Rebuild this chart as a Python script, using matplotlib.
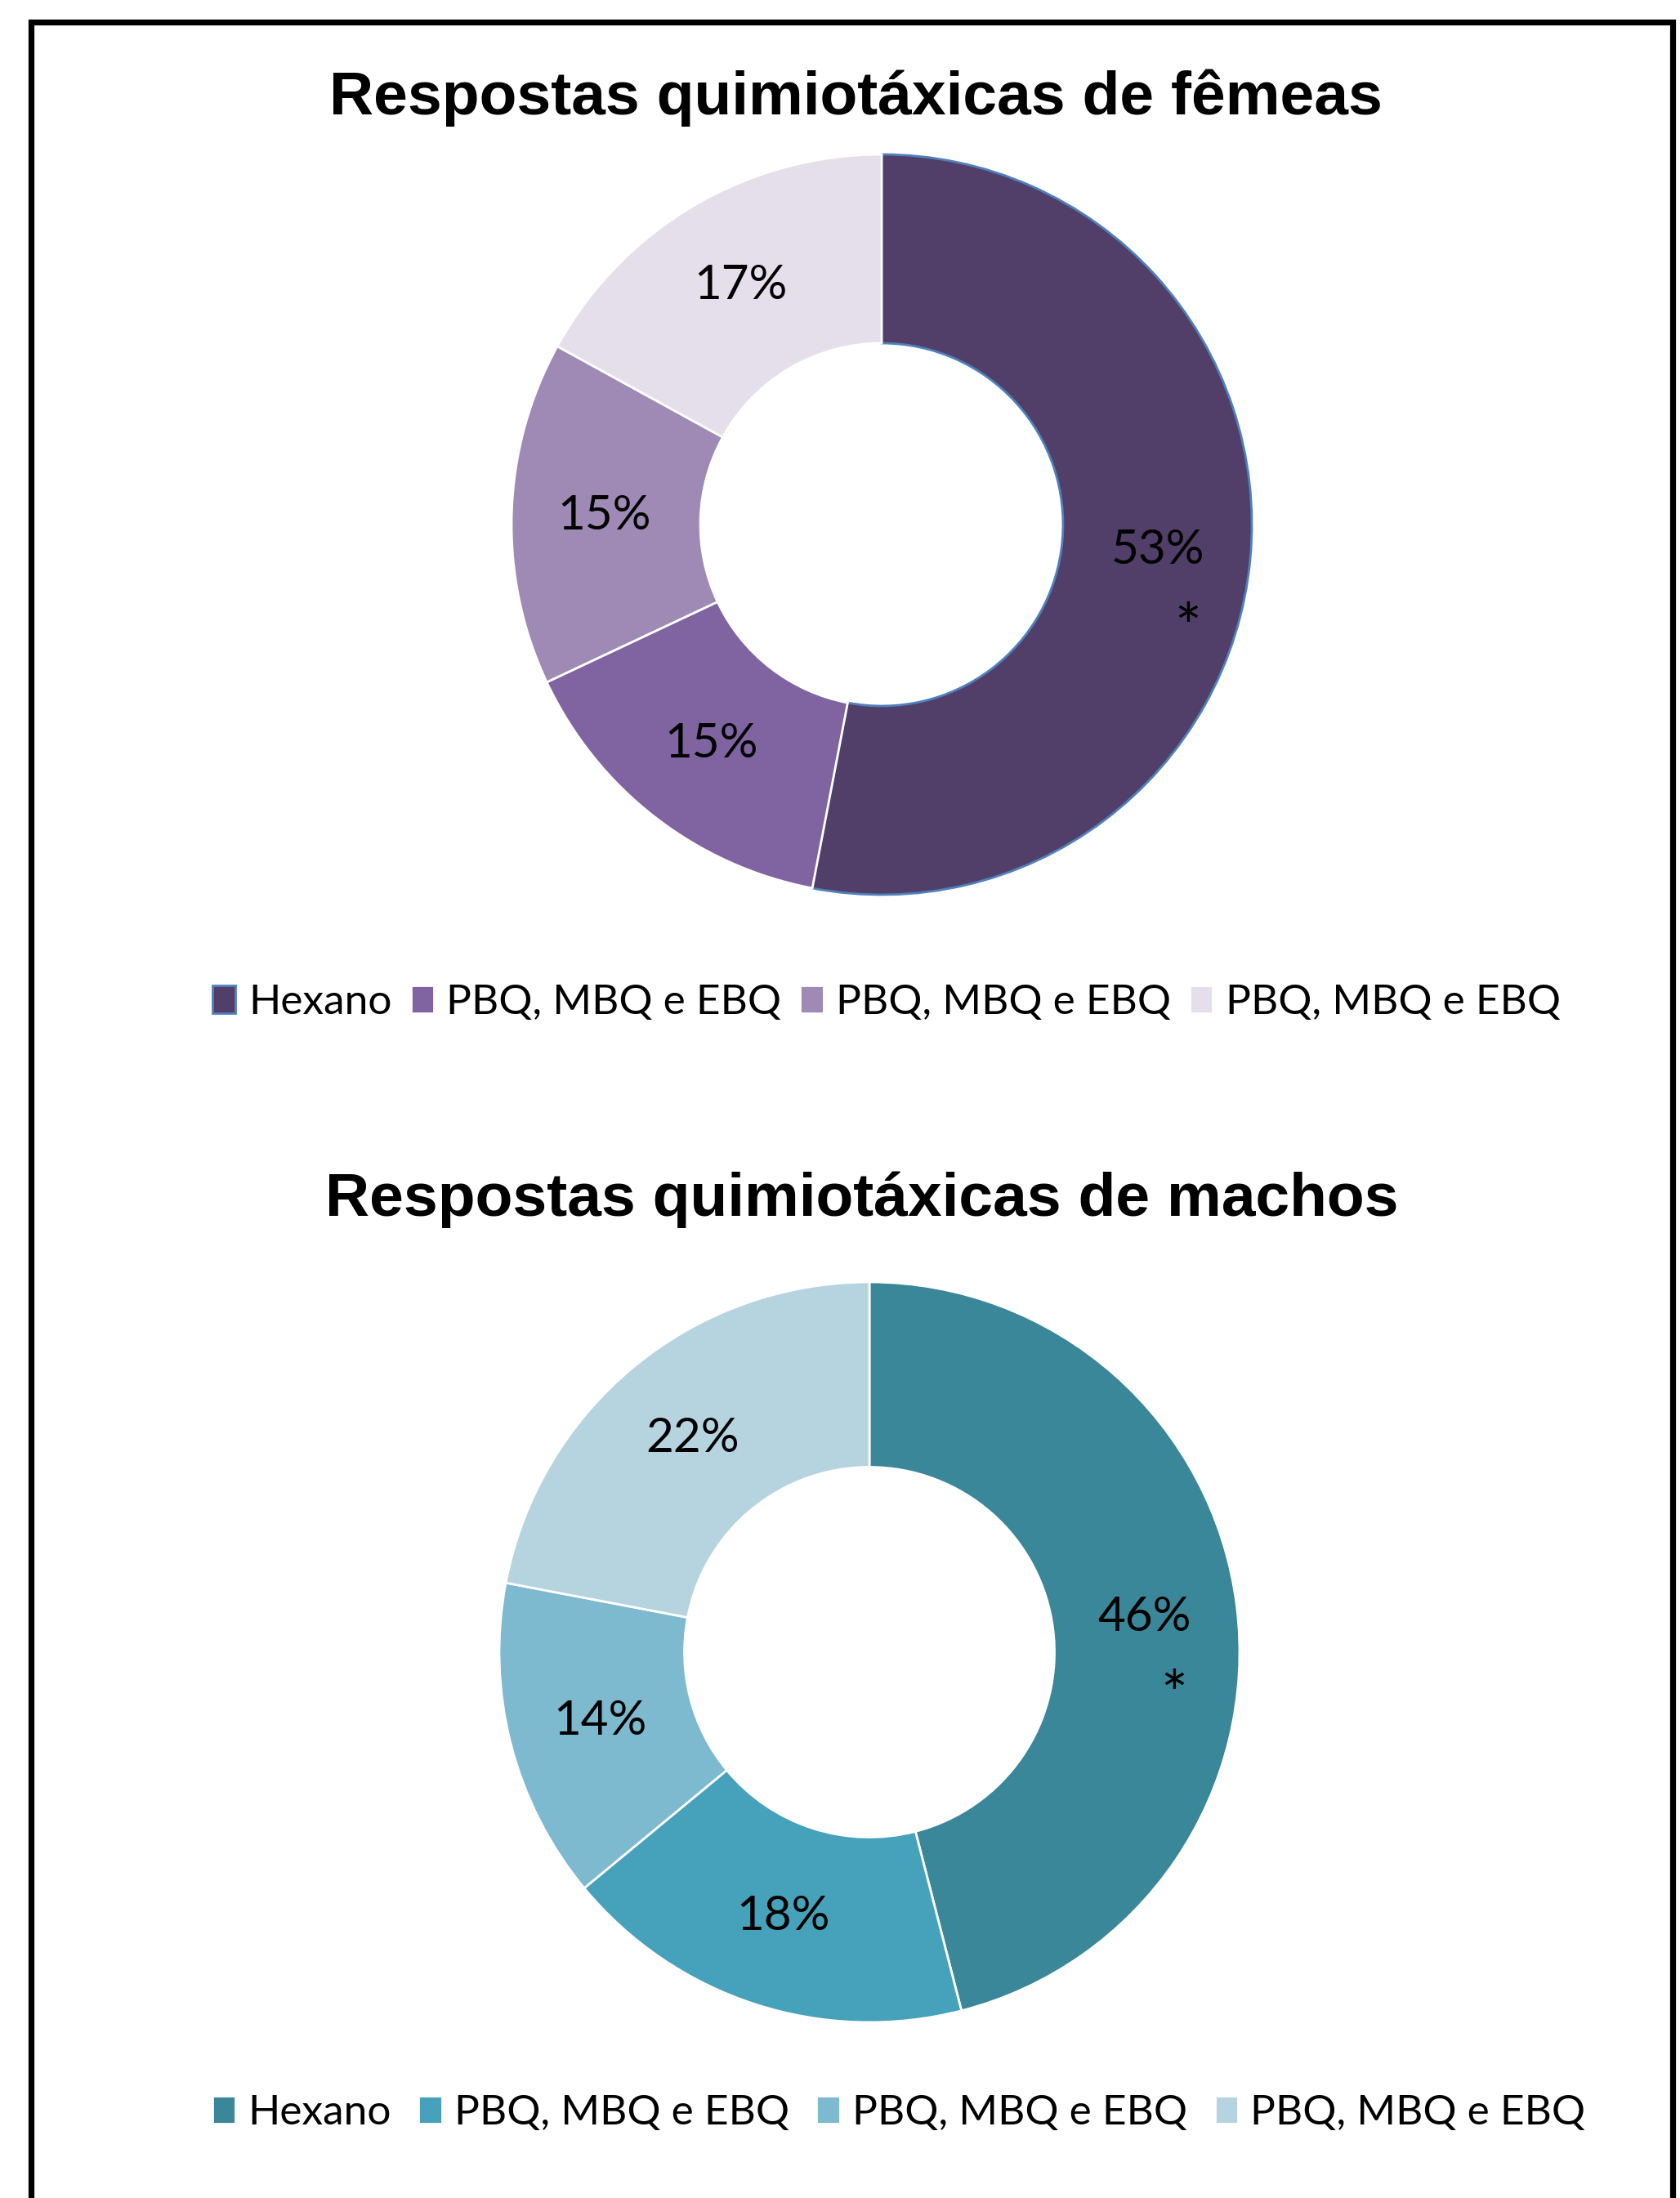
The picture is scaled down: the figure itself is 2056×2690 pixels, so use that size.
import matplotlib
matplotlib.use("Agg")
import matplotlib.pyplot as plt
from matplotlib.patches import Rectangle

# ---- data ----
categories = ["Hexano", "PBQ, MBQ e EBQ", "PBQ, MBQ e EBQ", "PBQ, MBQ e EBQ"]
femeas_values = [53, 15, 15, 17]
machos_values = [46, 18, 14, 22]
femeas_colors = ["#513F69", "#8064A2", "#9E8AB5", "#E5DFEC"]
machos_colors = ["#3A8799", "#46A2BA", "#7DB9CF", "#B6D4DF"]
title_femeas = "Respostas quimiotáxicas de fêmeas"
title_machos = "Respostas quimiotáxicas de machos"

W, H = 2056, 2690
DPI = 100
fig = plt.figure(figsize=(W / DPI, H / DPI), dpi=DPI)
fig.patch.set_facecolor("white")

LABEL_FONT = ["Lato", "DejaVu Sans"]
TITLE_FONT = ["Liberation Sans", "DejaVu Sans"]


def px_axes(cx, cy, r):
    return fig.add_axes([(cx - r) / W, (H - cy - r) / H, 2 * r / W, 2 * r / H])


def donut(ax, values, colors, hex_edge, width):
    wedges, texts, autotexts = ax.pie(
        values, colors=colors, startangle=90, counterclock=False,
        radius=1.0, autopct=lambda p: f"{p:.0f}%", pctdistance=0.75,
        wedgeprops=dict(width=width, edgecolor="white", linewidth=2),
        textprops=dict(fontsize=42, family=LABEL_FONT, color="black"))
    if hex_edge:
        wedges[0].set_edgecolor(hex_edge)
        wedges[0].set_linewidth(2)
    ax.set_xlim(-1, 1)
    ax.set_ylim(-1, 1)
    ax.set_aspect("equal")
    ax.axis("off")
    # asterisk under the first label
    t = autotexts[0]
    ax.annotate("*", xy=t.get_position(), xycoords="data",
                xytext=(26, -72), textcoords="offset points",
                ha="center", va="center", fontsize=56, family=LABEL_FONT)
    return wedges


ax1 = px_axes(1079, 642, 453)
w1 = donut(ax1, femeas_values, femeas_colors, "#4F81BD", 0.51)
ax2 = px_axes(1064, 2022, 453)
w2 = donut(ax2, machos_values, machos_colors, None, 0.50)

fig.text(1047 / W, 1 - 120 / H, title_femeas, ha="center", va="center",
         fontsize=54, fontweight="bold", family=TITLE_FONT)
fig.text(1055 / W, 1 - 1468 / H, title_machos, ha="center", va="center",
         fontsize=54, fontweight="bold", family=TITLE_FONT)

for wedges, cx, cy, cs in [(w1, 1085, 1227, 0.45), (w2, 1100, 2586, 0.65)]:
    leg = fig.legend(wedges, categories, loc="center",
                     bbox_to_anchor=(cx / W, 1 - cy / H), ncol=4,
                     frameon=False, handlelength=0.55, handleheight=0.65,
                     handletextpad=0.3, columnspacing=cs,
                     prop=dict(family=LABEL_FONT, size=37))

# outer border (bottom edge beyond the canvas)
fig.patches.append(Rectangle((37.5 / W, -0.05), (2046.5 - 37.5) / W,
                             1.05 - 27 / H, transform=fig.transFigure,
                             fill=False, edgecolor="black", linewidth=5.2))

fig.savefig("out.png", dpi=DPI, facecolor="white")
